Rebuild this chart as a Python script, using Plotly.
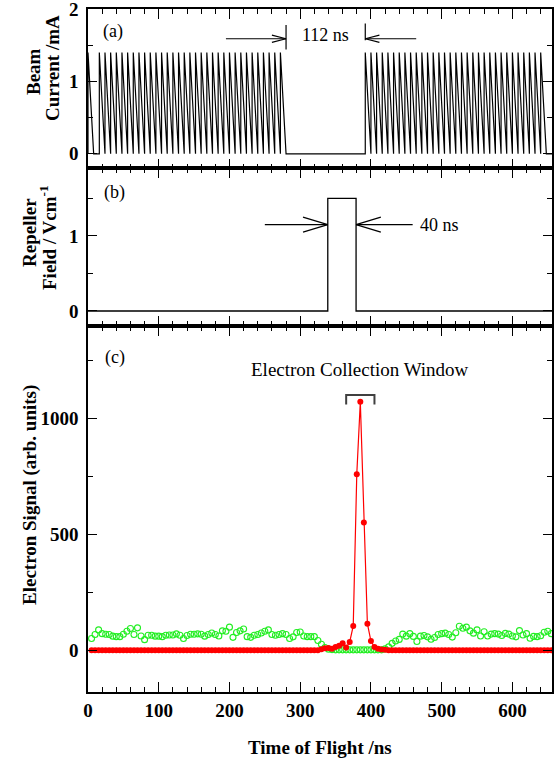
import plotly.graph_objects as go

FONT = "Liberation Serif"

# ---------------- (a) chopped, bunched beam ----------------
# rising edge of every bunch (ns); each bunch ramps down to zero over one period
bunch_onsets_ns = [
    0, 16, 24, 32, 40, 48, 56, 64, 72, 80, 88, 96, 104, 112, 120, 128, 136,
    144, 152, 160, 168, 176, 184, 192, 200, 208, 216, 224, 232, 240, 248,
    256, 264, 272,
    392, 400, 408, 416, 424, 432, 440, 448, 456, 464, 472, 480, 488, 496,
    504, 512, 520, 528, 536, 544, 552, 560, 568, 576, 584, 592, 600, 608,
    616, 624, 632, 640,
]
BUNCH_PERIOD_NS = 8
BUNCH_PEAK_MA = 1.4
CHOP_START_NS = 280
CHOP_END_NS = 392

# ---------------- (b) repeller pulse ----------------
REPELLER_START_NS = 339
REPELLER_WIDTH_NS = 40
REPELLER_LEVEL = 1.5

# ---------------- (c) electron signal ----------------
TOF_BIN_NS = 5
signal_off = [  # open green circles
    51, 68, 88, 72, 69, 68, 61, 59, 59, 69, 82, 94, 68, 97, 62, 46, 65, 65,
    61, 61, 59, 65, 66, 66, 71, 65, 51, 64, 69, 69, 71, 69, 61, 68, 75, 68,
    62, 84, 82, 100, 56, 77, 84, 92, 59, 56, 65,
    68, 75, 82, 88, 68, 65, 68, 72, 68, 51, 58, 77, 79, 62, 59, 59, 59,
    42, 26, 12, 5, 3,
    2, 2, 2, 2, 2, 2, 2, 2, 2, 2, 2, 2, 2, 2,
    6, 15, 30, 40, 47, 70, 61, 72, 60, 38, 61, 64, 58, 48, 55, 68, 72, 74,
    68, 57, 76, 104, 95, 100, 84, 74, 88, 62, 80, 62, 70, 72, 70, 64, 73,
    70, 62, 58, 85, 66, 72, 52, 60, 59, 63, 78, 82, 72,
]
signal_on = [  # filled red circles
    0, 0, 0, 0, 0, 0, 0, 0, 0, 0, 0, 0, 0, 0, 0, 0, 0, 0, 0, 0,
    0, 0, 0, 0, 0, 0, 0, 0, 0, 0, 0, 0, 0, 0, 0, 0, 0, 0, 0, 0,
    0, 0, 0, 0, 0, 0, 0, 0, 0, 0, 0, 0, 0, 0, 0, 0, 0, 0, 0, 0,
    0, 0, 0, 0, 0,
    5, 9, 10, 7, 14, 20, 30, 12, 36, 105, 760, 1073, 552, 115, 40, 14, 7,
    4, 2,
    0, 0, 0, 0, 0, 0, 0, 0, 0, 0, 0, 0, 0, 0, 0, 0, 0, 0, 0, 0,
    0, 0, 0, 0, 0, 0, 0, 0, 0, 0, 0, 0, 0, 0, 0, 0, 0, 0, 0, 0,
    0, 0, 0, 0, 0, 0, 0,
]
tof_ns = [TOF_BIN_NS * (k + 1) for k in range(len(signal_on))]

WINDOW_START_NS = 365
WINDOW_END_NS = 405

X_MAX = 656

# ---------- build the step / sawtooth traces ----------
beam_x, beam_y = [0], [0]
for t in bunch_onsets_ns:
    beam_x += [t, t, t + BUNCH_PERIOD_NS]
    beam_y += [0, BUNCH_PEAK_MA, 0]
beam_x.append(X_MAX)
beam_y.append(0)

rep_end = REPELLER_START_NS + REPELLER_WIDTH_NS
rep_x = [0, REPELLER_START_NS, REPELLER_START_NS, rep_end, rep_end, X_MAX]
rep_y = [0, 0, REPELLER_LEVEL, REPELLER_LEVEL, 0, 0]

fig = go.Figure()
fig.add_trace(go.Scatter(x=beam_x, y=beam_y, mode="lines",
                         line=dict(color="black", width=1.2),
                         xaxis="x", yaxis="y"))
fig.add_trace(go.Scatter(x=rep_x, y=rep_y, mode="lines",
                         line=dict(color="black", width=1.3),
                         xaxis="x2", yaxis="y2"))
fig.add_trace(go.Scatter(x=tof_ns, y=signal_off, mode="markers",
                         marker=dict(symbol="circle-open", size=6,
                                     color="#22ee22", line=dict(width=1.1)),
                         xaxis="x3", yaxis="y3"))
fig.add_trace(go.Scatter(x=tof_ns, y=signal_on, mode="lines+markers",
                         line=dict(color="#ff0000", width=1.2),
                         marker=dict(symbol="circle", size=6, color="#ff0000"),
                         xaxis="x3", yaxis="y3"))

# ---------- annotation helpers ----------
shapes = []


def seg(xr, yr, x0, y0, x1, y1, color="black", width=1.2):
    shapes.append(dict(type="line", xref=xr, yref=yr, x0=x0, y0=y0, x1=x1,
                       y1=y1, line=dict(color=color, width=width)))


def arrow(xr, yr, tail, tip, y, head_len, head_half):
    seg(xr, yr, tail, y, tip, y)
    back = tip - head_len if tip > tail else tip + head_len
    seg(xr, yr, back, y + head_half, tip, y)
    seg(xr, yr, back, y - head_half, tip, y)


# (a) 112 ns chopping gap
arrow("x", "y", 195, CHOP_START_NS, 1.59, 20, 0.05)
arrow("x", "y", 464, CHOP_END_NS, 1.59, 20, 0.05)
seg("x", "y", CHOP_START_NS, 1.44, CHOP_START_NS, 1.78)
seg("x", "y", CHOP_END_NS, 1.57, CHOP_END_NS, 1.80)

# (b) 40 ns repeller pulse
arrow("x2", "y2", 250, REPELLER_START_NS, 1.15, 35, 0.1)
arrow("x2", "y2", 459, rep_end, 1.15, 35, 0.1)

# (c) electron collection window bracket
shapes.append(dict(type="path", xref="x3", yref="y3",
                   path=f"M {WINDOW_START_NS},1061 L {WINDOW_START_NS},1102 "
                        f"L {WINDOW_END_NS},1102 L {WINDOW_END_NS},1061",
                   line=dict(color="#404040", width=2)))

txt = dict(family=FONT, size=18, color="black")
bold = dict(family=FONT, size=19, color="black", weight="bold")

PLOT_L, PLOT_R, PLOT_T, PLOT_B = 88, 552, 9, 692


def px_x(px):
    return (px - PLOT_L) / (PLOT_R - PLOT_L)


def px_y(py):
    return (PLOT_B - py) / (PLOT_B - PLOT_T)


def ytitle(text, cx, cy):
    return dict(x=px_x(cx), y=px_y(cy), xref="paper", yref="paper",
                xanchor="center", yanchor="middle", textangle=-90,
                text=text, showarrow=False, font=bold)


annotations = [
    dict(x=36, y=1.69, xref="x", yref="y", text="(a)", showarrow=False, font=txt),
    dict(x=38, y=1.58, xref="x2", yref="y2", text="(b)", showarrow=False, font=txt),
    dict(x=38, y=1265, xref="x3", yref="y3", text="(c)", showarrow=False, font=txt),
    dict(x=(CHOP_START_NS + CHOP_END_NS) / 2, y=1.64, xref="x", yref="y",
         text=f"{CHOP_END_NS - CHOP_START_NS} ns", showarrow=False, font=txt),
    dict(x=466, y=1.15, xref="x2", yref="y2", xanchor="left",
         text=f"{REPELLER_WIDTH_NS} ns", showarrow=False, font=txt),
    dict(x=385, y=1213, xref="x3", yref="y3",
         text="Electron Collection Window", showarrow=False,
         font=dict(family=FONT, size=19, color="black")),
    # axis titles
    ytitle("Beam", 34, 72),
    ytitle("Current /mA", 53, 68),
    ytitle("Repeller", 29, 233),
    ytitle("Field / Vcm<sup>-1</sup>", 48, 238),
    ytitle("Electron Signal (arb. units)", 30, 495),
    dict(x=0.5, y=px_y(747), xref="paper", yref="paper",
         xanchor="center", yanchor="middle",
         text="Time of Flight /ns", showarrow=False, font=bold),
]

tickfont = dict(family=FONT, size=19, color="black", weight="bold")


def xax(anchor, show_labels):
    return dict(range=[0, X_MAX], anchor=anchor, domain=[0, 1],
                showline=True, linecolor="black", linewidth=1.5,
                mirror="allticks", ticks="inside", ticklen=10, tickwidth=1.2,
                tickcolor="black", tick0=0, dtick=100,
                minor=dict(ticks="inside", ticklen=5, dtick=20, tick0=0,
                           tickcolor="black", tickwidth=1.2),
                showgrid=False, zeroline=False, showticklabels=show_labels,
                tickfont=tickfont, automargin=False)


def yax(anchor, rng, dtick, minor, dom):
    return dict(range=rng, anchor=anchor, domain=dom, showline=True,
                linecolor="black", linewidth=1.5, mirror="allticks",
                ticks="inside", ticklen=9, tickwidth=1.2, tickcolor="black",
                tick0=0, dtick=dtick,
                minor=dict(ticks="inside", ticklen=5, dtick=minor, tick0=0,
                           tickcolor="black", tickwidth=1.2),
                showgrid=False, zeroline=False, tickfont=tickfont,
                ticklabelstandoff=4, ticklabeloverflow="allow",
                automargin=False)


fig.update_layout(
    width=558, height=761,
    margin=dict(l=PLOT_L, r=558 - PLOT_R, t=PLOT_T, b=761 - PLOT_B),
    paper_bgcolor="white", plot_bgcolor="white",
    showlegend=False,
    xaxis=xax("y", False),
    xaxis2=xax("y2", False),
    xaxis3=xax("y3", True),
    yaxis=yax("x", [-0.2, 2.001], 1, 0.5, [px_y(168.3), 1]),
    yaxis2=yax("x2", [-0.2, 1.9], 1, 0.5, [px_y(326), px_y(168.3)]),
    yaxis3=yax("x3", [-180, 1400], 500, 250, [0, px_y(326)]),
    shapes=shapes,
    annotations=annotations,
)

fig.write_html("out.html")
